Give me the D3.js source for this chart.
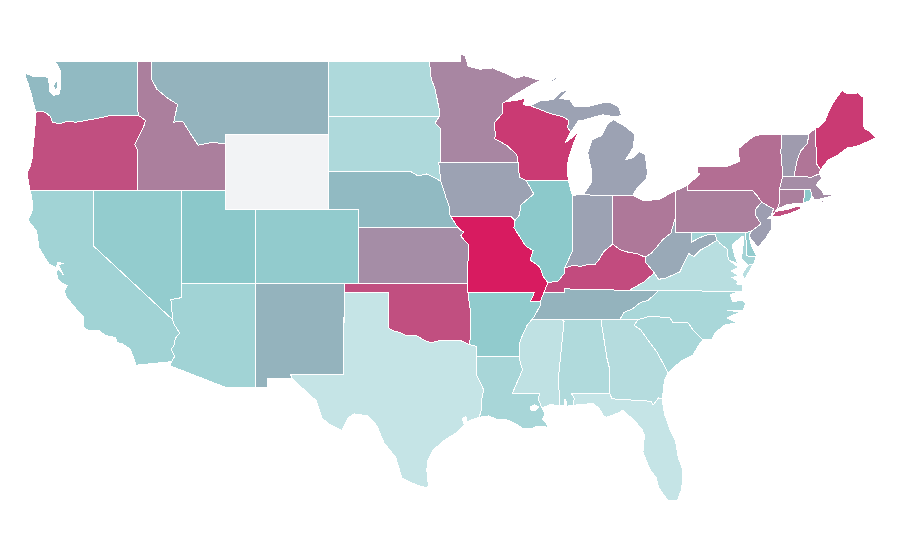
<!DOCTYPE html>
<html><head><meta charset="utf-8">
<script src="https://cdn.jsdelivr.net/npm/d3@7"></script>
<style>html,body{margin:0;background:#fff}svg{display:block}</style>
</head><body><svg id="map" width="900" height="560"></svg>
<script>
const stateNames = ["Washington","Oregon","Idaho","Montana","Wyoming","California","Nevada","Utah","Colorado","Arizona","New Mexico","North Dakota","South Dakota","Nebraska","Kansas","Oklahoma","Texas","Minnesota","Iowa","Missouri","Arkansas","Louisiana","Wisconsin","Illinois","Michigan","Indiana","Ohio","Kentucky","Tennessee","Mississippi","Alabama","Georgia","Florida","South Carolina","North Carolina","Virginia","West Virginia","Maryland","Delaware","Pennsylvania","New Jersey","New York","Long Island","Connecticut","Rhode Island","Massachusetts","Vermont","New Hampshire","Maine"];
const stateValues = [54,85,71,56,null,31,43,50,44,31,56,20,20,54,67,85,0,69,61,100,45,25,91,49,61,61,73,86,56,5,18,14,0,24,24,11,59,28,43,71,62,76,85,71,50,67,63,74,91];
const colorStops = [0,50,100];
const colorRange = ["#c5e4e6","#8bc8ca","#d81b60"];
const noDataColor = "#f2f3f5";
const latTicks = [49,45,41,37,25.85];
const lonTicks = [-109.05,-66.95];
const stateOutlines = [
/*WA*/["-124.64,48.34 -124.17,48.18 -123.6,48.13 -123.09,48.12 -123,47.75 -122.95,47.3 -122.7,47.12 -122.3,47.2 -122.25,47.5 -122.2,48.35 -122.47,48.85 -122.68,49 -117.04,49 -117.04,46.42 -116.92,46 -118.98,46 -119.3,45.93 -120,45.82 -120.6,45.73 -121.2,45.65 -121.8,45.7 -122.3,45.55 -122.78,45.65 -122.9,45.95 -123.2,46.15 -123.5,46.25 -123.9,46.2 -124.1,46.75 -124.15,47 -124.3,47.4 -124.45,47.8 -124.6,48.1","-122.72,47.6 -122.5,47.95 -122.42,47.65 -122.55,47.38"],
/*OR*/["-123.9,46.2 -123.5,46.25 -123.2,46.15 -122.9,45.95 -122.78,45.65 -122.3,45.55 -121.8,45.7 -121.2,45.65 -120.6,45.73 -120,45.82 -119.3,45.93 -118.98,46 -116.92,46 -116.48,45.75 -116.55,45.5 -116.85,45 -117.2,44.45 -117.05,44.2 -117.03,43.8 -117.03,42 -120,42 -124.3,42 -124.4,42.4 -124.5,42.9 -124.3,43.25 -124.15,43.75 -124.1,44.3 -123.97,45.2 -123.95,45.8"],
/*ID*/["-117.04,49 -116.05,49 -116.05,48 -115.7,47.45 -114.95,46.95 -114.3,46.62 -114.56,45.65 -113.95,45.7 -113.45,45.05 -112.9,44.4 -112,44.55 -111.05,44.48 -111.05,42 -114.04,42 -117.03,42 -117.03,43.8 -117.05,44.2 -117.2,44.45 -116.85,45 -116.55,45.5 -116.48,45.75 -116.92,46 -117.04,46.42"],
/*MT*/["-116.05,49 -104.05,49 -104.05,45 -111.05,45 -111.05,44.48 -112,44.55 -112.9,44.4 -113.45,45.05 -113.95,45.7 -114.56,45.65 -114.3,46.62 -114.95,46.95 -115.7,47.45 -116.05,48"],
/*WY*/["-111.05,45 -104.05,45 -104.05,41 -111.05,41"],
/*CA*/["-124.3,42 -120,42 -120,39 -114.63,35 -114.57,34.8 -114.15,34.27 -114.45,34 -114.55,33.6 -114.72,33.4 -114.5,33 -114.72,32.72 -117.12,32.53 -117.25,32.85 -117.5,33.4 -118.1,33.72 -118.4,33.75 -118.5,34.03 -119.2,34.15 -119.6,34.4 -120.5,34.45 -120.65,34.6 -120.65,35.15 -121.3,35.7 -121.9,36.3 -121.95,36.6 -121.8,36.85 -122.05,36.95 -122.4,37.2 -122.5,37.5 -122.45,37.78 -122.2,37.6 -122.05,37.45 -122.25,37.75 -122.4,38 -122,38.05 -122.4,38.12 -122.5,37.9 -122.55,37.85 -123,38 -123.7,38.9 -123.85,39.8 -124.35,40.3 -124.4,40.45 -124.1,41 -124.2,41.7"],
/*NV*/["-120,42 -114.04,42 -114.05,36.2 -114.75,36.1 -114.63,35 -120,39"],
/*UT*/["-114.04,42 -111.05,42 -111.05,41 -109.05,41 -109.05,37 -114.05,37"],
/*CO*/["-109.05,41 -102.05,41 -102.05,37 -109.05,37"],
/*AZ*/["-114.05,37 -109.05,37 -109.05,31.33 -111.07,31.33 -114.81,32.5 -114.72,32.72 -114.5,33 -114.72,33.4 -114.55,33.6 -114.45,34 -114.15,34.27 -114.57,34.8 -114.63,35 -114.75,36.1 -114.05,36.2"],
/*NM*/["-109.05,37 -103,37 -103.04,32 -106.62,32 -106.53,31.78 -108.2,31.78 -108.2,31.33 -109.05,31.33"],
/*ND*/["-104.05,49 -97.23,49 -97.1,48 -96.85,47.5 -96.55,46.3 -96.56,45.94 -104.05,45.94"],
/*SD*/["-104.05,45.94 -96.56,45.94 -96.85,45.6 -96.45,45.3 -96.45,43.5 -96.6,43.5 -96.45,42.45 -96.7,42.6 -97.4,42.87 -98,42.77 -98.5,43 -104.05,43"],
/*NE*/["-104.05,43 -98.5,43 -98,42.77 -97.4,42.87 -96.7,42.6 -96.45,42.45 -96.25,42 -96.1,41.6 -95.9,41.2 -95.85,40.7 -95.3,40 -102.05,40 -102.05,41 -104.05,41"],
/*KS*/["-102.05,40 -95.3,40 -95.1,39.85 -94.9,39.75 -95.1,39.55 -94.85,39.3 -94.6,39.1 -94.62,37 -102.05,37"],
/*OK*/["-103,37 -94.62,37 -94.62,36.5 -94.43,35.4 -94.48,33.64 -95.2,33.9 -95.8,33.85 -96.6,33.85 -97.15,33.75 -97.6,33.9 -98.1,34.13 -98.8,34.15 -99.2,34.3 -99.7,34.4 -100,34.56 -100,36.5 -103,36.5"],
/*TX*/["-103.04,32 -103,36.5 -100,36.5 -100,34.56 -99.7,34.4 -99.2,34.3 -98.8,34.15 -98.1,34.13 -97.6,33.9 -97.15,33.75 -96.6,33.85 -95.8,33.85 -95.2,33.9 -94.48,33.64 -94.04,33.55 -94.04,33.02 -94.04,32 -93.55,31.2 -93.7,30.6 -93.7,30.1 -93.85,29.7 -94.7,29.45 -94.75,29.75 -95,29.6 -94.85,29.3 -95.3,28.9 -96.2,28.45 -97,27.9 -97.35,27.3 -97.4,26.8 -97.3,26 -97.4,25.85 -98.2,26.05 -99.1,26.4 -99.5,27.5 -100.3,28.3 -100.8,29.25 -101.4,29.77 -102.3,29.88 -102.7,29.7 -103.15,28.98 -104,29.3 -104.5,29.65 -104.9,30.6 -106,31.4 -106.53,31.78 -106.62,32"],
/*MN*/["-97.23,49 -95.15,49 -95.15,49.38 -94.8,49.3 -94.6,48.72 -93.8,48.55 -92.95,48.62 -92,48.3 -91.4,48.05 -90.8,48.2 -90,48 -89.55,48 -90.5,47.6 -91.5,47.1 -92.1,46.75 -92.3,46.66 -92.3,46.1 -92.85,45.6 -92.75,45 -92.8,44.75 -92,44.4 -91.3,43.9 -91.22,43.5 -96.45,43.5 -96.45,45.3 -96.85,45.6 -96.56,45.94 -96.55,46.3 -96.85,47.5 -97.1,48"],
/*IA*/["-96.6,43.5 -91.22,43.5 -91.2,43.1 -91.1,42.7 -90.65,42.5 -90.15,41.8 -91.05,41.2 -91.1,40.7 -91.42,40.38 -91.73,40.61 -95.77,40.58 -95.85,40.7 -95.9,41.2 -96.1,41.6 -96.25,42 -96.45,42.45"],
/*MO*/["-95.77,40.58 -91.73,40.61 -91.42,40.38 -91.5,40 -91.1,39.5 -90.7,39 -90.2,38.75 -90.4,38.25 -89.75,37.87 -89.5,37.35 -89.2,37.02 -89.4,36.5 -89.7,36 -90.37,36 -90.1,36.5 -94.62,36.5 -94.62,37 -94.6,39.1 -94.85,39.3 -95.1,39.55 -94.9,39.75 -95.1,39.85 -95.3,40"],
/*AR*/["-94.62,36.5 -90.1,36.5 -90.37,36 -89.7,36 -89.7,35.8 -90.1,35.2 -90.3,35 -90.6,34.7 -91,34 -91.15,33.6 -91.15,33 -94.04,33.02 -94.04,33.55 -94.48,33.64 -94.43,35.4"],
/*LA*/["-94.04,33.02 -91.15,33 -91,32.5 -90.9,32.3 -91.6,31 -89.73,31 -89.85,30.7 -89.6,30.2 -89.4,29.9 -89.55,29.6 -89.3,29.4 -89.15,29.05 -89.4,29.2 -90,29.2 -90.25,29.1 -90.9,29.1 -91.3,29.3 -91.8,29.5 -92.1,29.6 -92.7,29.6 -93.2,29.77 -93.85,29.7 -93.7,30.1 -93.7,30.6 -93.55,31.2 -94.04,32","-90.4,30.25 -90.1,30.38 -89.8,30.25 -90.05,30.05 -90.35,30.1"],
/*WI*/["-92.1,46.75 -91.2,46.87 -90.75,46.95 -90.85,46.6 -90.4,46.55 -89.09,46.14 -88.1,45.92 -87.8,45.75 -87.85,45.35 -87.65,45.1 -88,44.55 -87.4,44.9 -87.05,45.25 -87.3,44.8 -87.5,44.4 -87.75,43.8 -87.9,43.2 -87.8,42.5 -90.65,42.5 -91.1,42.7 -91.2,43.1 -91.22,43.5 -91.3,43.9 -92,44.4 -92.8,44.75 -92.75,45 -92.85,45.6 -92.3,46.1 -92.3,46.66"],
/*IL*/["-90.65,42.5 -87.8,42.5 -87.53,41.7 -87.53,39.35 -87.55,38.7 -88.05,37.8 -88.1,37.5 -88.5,37.1 -89.2,37.02 -89.5,37.35 -89.75,37.87 -90.4,38.25 -90.2,38.75 -90.7,39 -91.1,39.5 -91.5,40 -91.42,40.38 -91.1,40.7 -91.05,41.2 -90.15,41.8"],
/*MI*/["-86.8,41.76 -84.8,41.7 -83.45,41.73 -83.15,42.1 -82.5,42.6 -82.45,43 -82.6,43.9 -83,44.07 -83.5,43.7 -83.9,43.65 -83.4,44.3 -83.3,45 -84.1,45.5 -84.75,45.78 -85.1,45.6 -85.5,45 -85.6,44.9 -86.2,44.7 -86.5,44 -86.25,43.1 -86.25,42.4","-90.4,46.55 -89.6,46.85 -88.85,46.87 -88.3,47.3 -87.8,47.45 -88.4,46.95 -87.7,46.87 -87.4,46.5 -86.5,46.5 -85.5,46.7 -85,46.75 -84.4,46.5 -84.2,46 -84.7,45.95 -85.45,46.05 -86.2,45.9 -86.8,45.75 -87.1,45.75 -87.65,45.1 -87.85,45.35 -87.8,45.75 -88.1,45.92 -89.09,46.14","-89.2,47.85 -88.5,48.15 -88.6,48 -89,47.85"],
/*IN*/["-87.53,41.7 -87.2,41.76 -86.8,41.76 -84.8,41.7 -84.8,39.1 -85.4,38.7 -85.7,38.3 -86,38 -86.5,38 -87,37.9 -87.5,37.95 -88.05,37.8 -87.55,38.7 -87.53,39.35"],
/*OH*/["-84.8,41.7 -83.45,41.73 -82.7,41.45 -81.7,41.5 -80.52,41.98 -80.52,40.64 -80.6,40.4 -80.85,39.7 -81.4,39.35 -81.75,39 -82.2,38.6 -82.6,38.4 -83.2,38.6 -83.7,38.65 -84.3,38.8 -84.8,39.1"],
/*KY*/["-89.45,36.5 -89.2,37.02 -88.5,37.1 -88.1,37.5 -88.05,37.8 -87.5,37.95 -87,37.9 -86.5,38 -86,38 -85.7,38.3 -85.4,38.7 -84.8,39.1 -84.3,38.8 -83.7,38.65 -83.2,38.6 -82.6,38.4 -82.6,38.15 -81.97,37.54 -82.7,37.05 -83.68,36.6 -88.07,36.68 -88.07,36.5"],
/*TN*/["-89.45,36.5 -88.07,36.5 -88.07,36.68 -83.68,36.6 -81.7,36.58 -82.4,36.05 -82.9,35.95 -83.5,35.57 -84.05,35.4 -84.32,35 -85.6,35 -88.2,35 -90.3,35 -90.1,35.2 -89.7,35.8 -89.7,36"],
/*MS*/["-90.3,35 -88.2,35 -88.1,34.9 -88.47,31.9 -88.4,30.3 -89,30.4 -89.6,30.2 -89.85,30.7 -89.73,31 -91.6,31 -90.9,32.3 -91,32.5 -91.15,33 -91.15,33.6 -91,34 -90.6,34.7"],
/*AL*/["-88.2,35 -85.6,35 -85.18,32.87 -85,32.3 -85.05,31.55 -85,31 -87.6,31 -87.4,30.7 -87.5,30.35 -87.95,30.3 -87.97,30.65 -88.07,30.65 -88.1,30.35 -88.4,30.3 -88.47,31.9 -88.1,34.9"],
/*GA*/["-85.6,35 -83.1,35 -83.35,34.7 -82.9,34.45 -82.27,33.74 -81.8,33.25 -81.4,32.65 -81.05,32.1 -81.3,31.7 -81.37,31.1 -81.45,30.72 -81.7,30.75 -82.05,30.37 -82.2,30.57 -84.85,30.7 -85,31 -85.05,31.55 -85,32.3 -85.18,32.87"],
/*FL*/["-87.5,30.35 -87.4,30.7 -87.6,31 -85,31 -84.85,30.7 -82.2,30.57 -82.05,30.37 -81.7,30.75 -81.45,30.72 -81.3,29.9 -80.9,29 -80.55,28.45 -80.35,27.5 -80.03,26.8 -80.12,25.8 -80.4,25.2 -81.05,25.15 -81.7,25.9 -81.85,26.4 -82.3,26.9 -82.75,27.8 -82.65,28.7 -82.85,29.1 -83.4,29.55 -84.1,30.1 -84.35,29.95 -85.2,29.7 -85.4,29.75 -85.7,30.15 -86.1,30.45"],
/*SC*/["-83.1,35 -82.27,35.2 -81.59,35.15 -80.91,35.1 -80.7,34.83 -79.69,34.83 -79.35,34.45 -78.68,33.9 -78.88,33.74 -79.35,33.09 -80.03,32.82 -80.71,32.38 -81.05,32.1 -81.4,32.65 -81.8,33.25 -82.27,33.74 -82.9,34.45 -83.35,34.7"],
/*NC*/["-84.32,35 -84.05,35.4 -83.5,35.57 -82.9,35.95 -82.4,36.05 -81.7,36.58 -75.98,36.55 -76.03,36.62 -76.85,36.35 -76.64,35.97 -76.03,36.08 -75.76,35.9 -75.96,35.53 -77.05,35.53 -76.17,35.42 -77.05,35.1 -76.5,34.88 -76.44,34.83 -77.19,34.72 -77.87,34.28 -78.07,33.9 -78.68,33.9 -79.35,34.45 -79.69,34.83 -80.7,34.83 -80.91,35.1 -81.59,35.15 -82.27,35.2 -83.1,35"],
/*VA*/["-83.68,36.6 -81.7,36.58 -75.98,36.55 -75.98,36.9 -76.4,36.95 -76.3,37.1 -76.7,37.3 -76.3,37.4 -76.75,37.65 -76.25,37.85 -76.95,38.25 -77.05,38.65 -77.05,38.85 -77.5,39.12 -77.72,39.32 -78.35,39 -78.87,38.77 -79.3,38.42 -79.65,38.6 -80.25,37.6 -81.25,37.25 -81.7,37.2 -81.97,37.54 -82.7,37.05","-75.65,37.95 -75.25,38.03 -75.9,37.15 -76,37.5"],
/*WV*/["-81.97,37.54 -82.6,38.15 -82.6,38.4 -82.2,38.6 -81.75,39 -81.4,39.35 -80.85,39.7 -80.6,40.4 -80.52,40.64 -80.52,39.72 -79.48,39.72 -79.48,39.2 -78.9,39.45 -78.4,39.6 -77.85,39.6 -77.72,39.32 -78.35,39 -78.87,38.77 -79.3,38.42 -79.65,38.6 -80.25,37.6 -81.25,37.25 -81.7,37.2"],
/*MD*/["-79.48,39.72 -75.79,39.72 -75.7,38.46 -75.05,38.45 -75.25,38.03 -75.65,37.95 -76.05,38.3 -76.03,38.63 -75.95,39.07 -75.95,39.5 -76.05,39.5 -76.7,39.07 -76.55,38.5 -76.32,38.05 -76.95,38.25 -77.05,38.65 -77.05,38.85 -77.5,39.12 -77.72,39.32 -77.85,39.6 -78.4,39.6 -78.9,39.45 -79.48,39.2"],
/*DE*/["-75.79,39.72 -75.4,39.8 -75.55,39.5 -75.4,39.05 -75.05,38.45 -75.7,38.46"],
/*PA*/["-80.52,41.98 -79.76,42.25 -79.76,42 -75.35,42 -75.05,41.75 -74.7,41.36 -75.1,41 -75.15,40.7 -74.75,40.2 -75.4,39.8 -75.79,39.72 -80.52,39.72 -80.52,40.64"],
/*NJ*/["-74.7,41.36 -75.1,41 -75.15,40.7 -74.75,40.2 -75.4,39.8 -75.55,39.6 -75.4,39.35 -74.95,38.93 -74.4,39.45 -74.05,39.9 -74,40.45 -74.25,40.5 -74.05,40.65 -73.9,41"],
/*NY*/["-79.76,42.25 -79.76,42 -75.35,42 -75.05,41.75 -74.7,41.36 -73.9,41 -74.02,40.7 -73.8,40.82 -73.66,41 -73.5,41.3 -73.5,42.05 -73.27,42.75 -73.35,43.6 -73.4,44 -73.35,45 -74.7,45 -75.3,44.85 -76.3,44.2 -76.2,43.55 -76.9,43.3 -77.6,43.25 -79.05,43.27 -79.05,42.95 -78.9,42.85"],
/*LI*/["-74,40.6 -73.75,40.87 -73,40.97 -72.3,41.15 -71.87,41.07 -72.7,40.78 -73.5,40.6"],
/*CT*/["-73.5,42.05 -71.8,42.02 -71.85,41.32 -72.9,41.25 -73.66,41 -73.5,41.3"],
/*RI*/["-71.8,42.02 -71.38,42.02 -71.3,41.7 -71.4,41.45 -71.85,41.32"],
/*MA*/["-73.5,42.05 -73.27,42.75 -72.46,42.73 -71.3,42.7 -70.82,42.87 -70.6,42.65 -71,42.3 -70.65,42 -70.5,41.78 -70,41.8 -70.1,42.05 -69.95,41.7 -70.6,41.55 -71.12,41.5 -71.3,41.7 -71.38,42.02 -71.8,42.02","-70.8,41.38 -70.5,41.45 -70.5,41.35"],
/*VT*/["-73.35,45 -71.5,45 -71.6,44.5 -72.05,44.1 -72.3,43.6 -72.45,43 -72.46,42.73 -73.27,42.75 -73.35,43.6 -73.4,44"],
/*NH*/["-71.5,45 -71.08,45.3 -71.03,44.65 -70.98,43.4 -70.7,43.07 -70.82,42.87 -71.3,42.7 -72.46,42.73 -72.45,43 -72.3,43.6 -72.05,44.1 -71.6,44.5"],
/*ME*/["-71.08,45.3 -70.8,45.4 -70.4,45.75 -70.2,46.15 -69.87,46.7 -69.25,47.4 -68.9,47.2 -68.17,47.25 -67.8,47 -67.76,45.3 -67.3,45.1 -66.97,44.8 -67.5,44.6 -68.23,44.35 -68.9,44.25 -69.5,43.9 -70.2,43.6 -70.7,43.1 -70.98,43.4 -71.03,44.65"]
];

const xScale = d3.scaleLinear().domain(lonTicks).range([255, 876]);
const yScale = d3.scaleLinear().domain(latTicks).range([61,134,209,283,488]);
const color = d3.scaleLinear().domain(colorStops).range(colorRange);
const path = d3.geoPath(d3.geoTransform({
  point(lon, lat){ this.stream.point(xScale(lon), yScale(lat)); }
}));
const parseRing = s => { const r = s.split(" ").map(p => p.split(",").map(Number)); r.push(r[0]); return r; };
const rows = stateNames.map((name,i) => ({name, value: stateValues[i],
  geometry: {type:"Polygon", coordinates: stateOutlines[i].map(parseRing)}}));
d3.select("#map").selectAll("path").data(rows).join("path")
  .attr("d", d => d.geometry.coordinates.map(ring => path({type:"Polygon", coordinates:[ring]})).join(""))
  .attr("fill", d => d.value === null ? noDataColor : color(d.value))
  .attr("fill-rule","evenodd")
  .attr("stroke","#fff").attr("stroke-width",1)
  .attr("shape-rendering","crispEdges")
  .append("title").text(d => d.name);
</script></body></html>
